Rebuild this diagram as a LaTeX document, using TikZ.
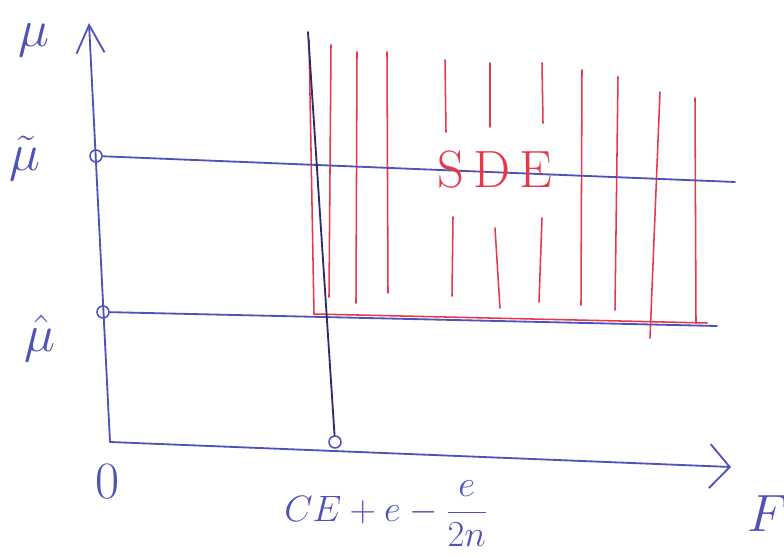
\documentclass[tikz,border=0pt]{standalone}
\usetikzlibrary{arrows.meta}
\definecolor{PenBlue}{HTML}{4F52B8}
\definecolor{PenDark}{HTML}{2E2A6E}
\definecolor{PenRed}{HTML}{E3394A}

\begin{document}
\begin{tikzpicture}[
    x=0.025cm, y=-0.025cm,
    pen/.style={draw=PenBlue, line width=1.3pt, line cap=round},
    axis/.style={pen, -{Straight Barb[length=7mm,width=7mm]}},
    hatch/.style={draw=PenRed, line width=1.1pt, line cap=round},
    dot/.style={circle, draw=PenBlue, line width=1.1pt, inner sep=0pt, minimum size=3mm},
    lbl/.style={text=PenBlue, inner sep=1pt, font=\Huge, scale=1.5}
]
\useasboundingbox (0,0) rectangle (784,556);

% Axes
\coordinate (origin) at (110,442);
\coordinate (ytip) at (89,23);
\coordinate (xtip) at (731,467);
\draw[axis] (origin) -- (ytip);
\draw[pen, -{Straight Barb[length=5mm,width=11mm]}] (origin) -- (xtip);

\node[lbl] (mulbl) at (34,40) {$\mu$};
\node[lbl] (zerolbl) at (108,482) {$0$};
\node[lbl] (flbl) at (768,514) {$F$};

% Shaded SDE region
\coordinate (sdetop) at (309,40);
\coordinate (sdelow) at (314,314);
\coordinate (sdelowend) at (707,323);
\draw[hatch] (sdetop) -- (sdelow);
\draw[hatch] (sdelow) -- (sdelowend);
\foreach \xa/\ya/\xb/\yb in {331/45/329/297, 357/52/356/303, 387/52/388/293,
    445/60/446/132, 453/217/452/296, 490/63/490/127, 495/228/500/308,
    542/63/543/123, 542/218/539/302, 582/70/581/305, 618/77/615/310,
    660/92/650/338, 695/98/696/323}
  \draw[hatch] (\xa,\ya) -- (\xb,\yb);

% Levels of mu
\node[dot] (mtilde) at (96,156) {};
\node[dot] (mhat) at (103,312) {};
\node[lbl] (mtildelbl) at (25,158) {$\tilde{\mu}$};
\node[lbl] (mhatlbl) at (40,338) {$\hat{\mu}$};
\coordinate (mtildeend) at (735,182);
\coordinate (mhatend) at (717,326);
\draw[pen] (mtilde) -- (mtildeend);
\draw[pen] (mhat) -- (mhatend);

% Critical value of F
\node[dot] (fcrit) at (335,442) {};
\coordinate (ftop) at (308,32);
\draw[pen, draw=PenDark] (ftop) -- (fcrit);
\node[lbl, scale=0.7] (fcritlbl) at (386,514)
    {$\displaystyle CE+e-\frac{e}{2n}$};

\node[lbl, text=PenRed] (sdelbl) at (495,170) {S\,D\,E};

\end{tikzpicture}
\end{document}
